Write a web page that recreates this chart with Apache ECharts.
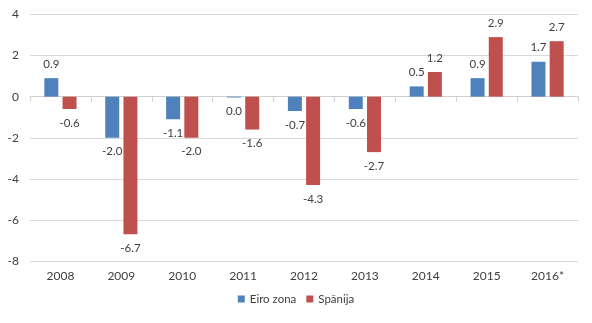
<!DOCTYPE html>
<html>
<head>
<meta charset="utf-8">
<script src="https://cdn.jsdelivr.net/npm/echarts@6/dist/echarts.min.js"></script>
<style>html,body{margin:0;padding:0;background:#fff}#c{width:592px;height:323px}</style>
</head>
<body>
<div id="c"></div>
<script>
const categories = ['2008','2009','2010','2011','2012','2013','2014','2015','2016*'];
const euroZone = [0.9, -2.0, -1.1, -0.04, -0.7, -0.6, 0.5, 0.9, 1.7];
const spain = [-0.6, -6.7, -2.0, -1.6, -4.3, -2.7, 1.2, 2.9, 2.7];
const seriesNames = ['Eiro zona', 'Spānija'];
const yTicks = {min: -8, max: 4, interval: 2};

const FONT = 'Lato, "Liberation Sans", sans-serif';
const txt = '#404040';
function fmt(p){ let s = p.value.toFixed(1); if (s === '-0.0') s = '0.0'; return s; }

const chart = echarts.init(document.getElementById('c'), null, {renderer:'canvas'});
chart.setOption({
  animation: false,
  backgroundColor: '#fff',
  grid: {left: 30, right: 14, top: 14.5, bottom: 62, containLabel: false},
  legend: {
    bottom: 13, left: 'center', icon: 'rect', itemWidth: 7, itemHeight: 7, itemGap: 10,
    textStyle: {fontFamily: FONT, fontSize: 11.5, color: txt},
    data: seriesNames
  },
  xAxis: [
    {type:'category', data: categories, position:'bottom',
     axisLine:{show:true, onZero:true, lineStyle:{color:'#d0d0d0'}},
     axisTick:{show:true, length:5, lineStyle:{color:'#d0d0d0'}},
     axisLabel:{show:false}, splitLine:{show:false}},
    {type:'category', data: categories, position:'bottom',
     axisLine:{show:false, onZero:false}, axisTick:{show:false},
     axisLabel:{show:true, margin:9, fontFamily: FONT, fontSize: 12, color: txt}}
  ],
  yAxis: {
    type:'value', min: yTicks.min, max: yTicks.max, interval: yTicks.interval,
    axisLine:{show:false}, axisTick:{show:false},
    axisLabel:{margin:11, fontFamily: FONT, fontSize: 12, color: txt},
    splitLine:{lineStyle:{color:'#d9d9d9'}}
  },
  series: [
    {name: seriesNames[0], type:'bar', data: euroZone, xAxisIndex:0, barWidth:14, barGap:'30%',
     itemStyle:{color:'#4F81BD'},
     label:{show:true, position:'outside', distance:8, formatter: fmt, fontFamily: FONT, fontSize: 11.5, color: txt}},
    {name: seriesNames[1], type:'bar', data: spain, xAxisIndex:0, barWidth:14, barGap:'30%',
     itemStyle:{color:'#C0504D'},
     label:{show:true, position:'outside', distance:8, formatter: fmt, fontFamily: FONT, fontSize: 11.5, color: txt}}
  ]
});
</script>
</body>
</html>
